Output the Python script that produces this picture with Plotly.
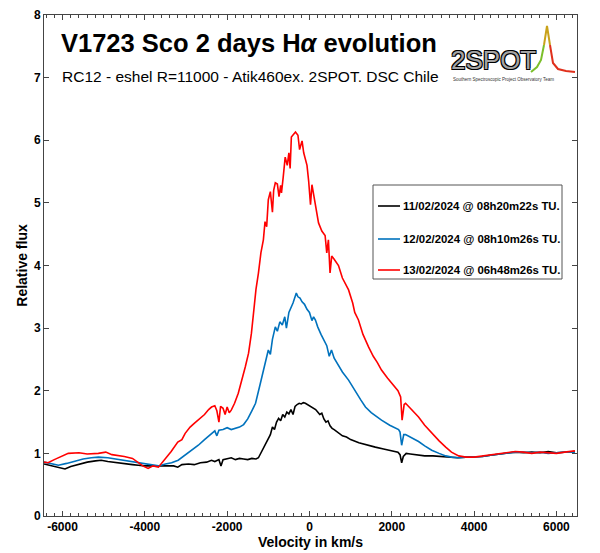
import plotly.graph_objects as go

# ---------------- data ----------------
labels = ["11/02/2024 @ 08h20m22s TU.",
          "12/02/2024 @ 08h10m26s TU.",
          "13/02/2024 @ 06h48m26s TU."]
colors = ["#000000", "#0072BD", "#FF0000"]

v_black = [-6450, -6300, -6100, -5940, -5800, -5600, -5400, -5200, -5060, -4900, -4700, -4500,
           -4300, -4160, -4000, -3800, -3670, -3500, -3300, -3200, -3100, -2940, -2800, -2650,
           -2500, -2380, -2300, -2200, -2150, -2100, -2000, -1900, -1800, -1700, -1600, -1500,
           -1400, -1300, -1240, -1150, -1050, -1000, -950, -900, -850, -800, -750, -700, -650,
           -600, -550, -500, -450, -400, -350, -300, -250, -200, -150, -100, -50, 0, 50, 100,
           150, 200, 250, 300, 350, 400, 450, 500, 550, 600, 700, 800, 900, 1000, 1200, 1400,
           1600, 1800, 2000, 2150, 2200, 2240, 2280, 2350, 2450, 2600, 2800, 3000, 3200, 3400,
           3600, 3800, 4000, 4200, 4400, 4600, 4800, 5000, 5200, 5400, 5600, 5800, 6000, 6200,
           6450]
f_black = [0.83, 0.81, 0.78, 0.75, 0.79, 0.83, 0.86, 0.88, 0.89, 0.87, 0.85, 0.83,
           0.82, 0.81, 0.80, 0.80, 0.80, 0.81, 0.80, 0.78, 0.82, 0.83, 0.82, 0.85,
           0.86, 0.89, 0.87, 0.90, 0.80, 0.90, 0.91, 0.93, 0.90, 0.92, 0.91, 0.90,
           0.92, 0.91, 0.93, 1.05, 1.18, 1.24, 1.30, 1.42, 1.38, 1.50, 1.56, 1.52, 1.62,
           1.58, 1.66, 1.63, 1.70, 1.62, 1.75, 1.78, 1.80, 1.79, 1.81, 1.80, 1.78, 1.77, 1.74, 1.72,
           1.70, 1.66, 1.62, 1.64, 1.55, 1.50, 1.52, 1.44, 1.40, 1.38, 1.33, 1.28, 1.26, 1.22, 1.17, 1.13,
           1.10, 1.07, 1.04, 1.02, 0.98, 0.85, 0.95, 1.00, 0.99, 0.98, 0.96, 0.96, 0.95, 0.94,
           0.93, 0.94, 0.94, 0.95, 0.97, 0.99, 1.01, 1.02, 1.01, 1.02, 1.01, 1.03, 1.01, 1.02,
           1.03]

v_blue = [-6450, -6300, -6100, -5900, -5700, -5500, -5300, -5130, -4900, -4700, -4500, -4300,
          -4160, -4000, -3800, -3670, -3500, -3350, -3190, -3000, -2850, -2700, -2550, -2400,
          -2300, -2250, -2200, -2100, -2000, -1900, -1800, -1700, -1600, -1500, -1400, -1310,
          -1200, -1070, -1000, -950, -900, -830, -780, -720, -660, -600, -560, -500, -450, -400,
          -350, -320, -280, -230, -180, -120, -60, 0, 60, 100, 145, 200, 280, 350, 420, 480, 535,
          600, 700, 800, 950, 1100, 1250, 1360, 1500, 1750, 1950, 2165, 2200, 2240, 2290, 2335,
          2450, 2650, 2800, 2970, 3150, 3310, 3450, 3625, 3800, 4000, 4200, 4400, 4600, 4800,
          5000, 5200, 5400, 5600, 5800, 6000, 6200, 6450]
f_blue = [0.86, 0.84, 0.81, 0.84, 0.88, 0.91, 0.93, 0.94, 0.93, 0.91, 0.89, 0.87,
          0.86, 0.84, 0.82, 0.80, 0.83, 0.85, 0.89, 0.98, 1.05, 1.13, 1.22, 1.30,
          1.36, 1.28, 1.37, 1.38, 1.41, 1.38, 1.40, 1.42, 1.46, 1.55, 1.68, 1.80,
          2.10, 2.49, 2.65, 2.58, 2.82, 3.02, 2.95, 3.10, 3.05, 3.18, 3.00, 3.25, 3.32, 3.40,
          3.50, 3.56, 3.50, 3.48, 3.42, 3.38, 3.30, 3.25, 3.12, 3.18, 3.13, 3.02, 2.90, 2.82, 2.72, 2.55, 2.65,
          2.52, 2.40, 2.30, 2.17, 2.00, 1.85, 1.74, 1.65, 1.53, 1.45, 1.38, 1.34, 1.13, 1.30, 1.30,
          1.26, 1.19, 1.12, 1.05, 1.00, 0.96, 0.94, 0.93, 0.94, 0.94, 0.95, 0.97, 0.99, 1.01,
          1.02, 1.02, 1.01, 1.02, 1.00, 1.01, 1.02, 1.02]

v_red = [-6450, -6350, -6200, -6000, -5860, -5600, -5400, -5130, -4950, -4800, -4650, -4500,
         -4300, -4160, -4050, -3920, -3800, -3670, -3550, -3450, -3360, -3200, -3100, -3020,
         -2900, -2800, -2700, -2550, -2450, -2380, -2300, -2250, -2200, -2160, -2100, -2050,
         -2000, -1950, -1900, -1820, -1730, -1650, -1560, -1480, -1410, -1350, -1300, -1240,
         -1180, -1120, -1080, -1040, -1000, -950, -900, -870, -830, -780, -740, -700, -680,
         -640, -590, -540, -500, -470, -440, -380, -340, -280, -240, -220, -180, -140, -100,
         -60, -20, 25, 60, 120, 180, 220, 300, 380, 420, 460, 500, 540, 600, 705, 800, 900,
         950, 1050, 1100, 1190, 1300, 1435, 1550, 1650, 1750, 1900, 2090, 2150, 2215, 2250,
         2300, 2335, 2450, 2650, 2800, 2970, 3150, 3310, 3450, 3625, 3800, 4000, 4200, 4400,
         4600, 4800, 5000, 5200, 5400, 5600, 5800, 6000, 6200, 6450]
f_red = [0.86, 0.85, 0.90, 0.96, 1.00, 1.01, 0.99, 1.00, 1.02, 0.98, 0.97, 0.95,
         0.92, 0.86, 0.80, 0.76, 0.80, 0.78, 0.88, 0.95, 1.03, 1.18, 1.22, 1.32,
         1.42, 1.48, 1.53, 1.62, 1.70, 1.74, 1.76, 1.68, 1.50, 1.75, 1.72, 1.62,
         1.74, 1.65, 1.69, 1.80, 1.96, 2.15, 2.38, 2.60, 2.92, 3.30, 3.62, 3.88,
         4.20, 4.41, 4.70, 4.62, 5.05, 5.18, 4.85, 5.20, 5.32, 5.30, 5.10, 5.28, 5.16,
         5.40, 5.73, 5.60, 5.80, 5.55, 6.05, 6.10, 6.13, 6.08, 5.85, 5.90, 5.99, 5.80, 5.69,
         5.60, 5.35, 4.97, 5.29, 5.05, 4.85, 4.68, 4.55, 4.48, 4.20, 4.41, 3.88, 4.15, 4.10, 4.00, 3.80, 3.68,
         3.61, 3.40, 3.25, 3.13, 2.90, 2.70, 2.55, 2.45, 2.33, 2.20, 2.06, 2.00, 1.90, 1.53,
         1.78, 1.80, 1.72, 1.58, 1.45, 1.32, 1.20, 1.10, 1.02, 0.96, 0.94, 0.94, 0.96, 0.97,
         1.00, 1.01, 1.03, 1.02, 1.00, 1.02, 1.01, 1.00, 1.02, 1.04]

x_ticks = [-6000, -4000, -2000, 0, 2000, 4000, 6000]
y_ticks = [0, 1, 2, 3, 4, 5, 6, 7, 8]

title_text = "V1723 Sco 2 days H<i>α</i> evolution"
subtitle_text = "RC12 - eshel R=11000 - Atik460ex. 2SPOT. DSC Chile"

# ---------------- figure ----------------
FONT = "Liberation Sans, Arial, Helvetica, sans-serif"
OFF = 8                      # page body margin of the browser
W, H = 600 - OFF, 553 - OFF
ML, MR, MT, MB = 44 - OFF, 23, 15 - OFF, 37
PW, PH = W - ML - MR, H - MT - MB


def px(x):  # page pixel -> paper x
    return (x - OFF - ML) / PW


def py(y):  # page pixel -> paper y
    return (OFF + H - MB - y) / PH


fig = go.Figure()
series = [(v_black, f_black), (v_blue, f_blue), (v_red, f_red)]
for i, (v, f) in enumerate(series):
    fig.add_trace(go.Scatter(x=v, y=f, mode="lines", name=labels[i],
                             showlegend=False,
                             line=dict(color=colors[i], width=1.6)))

axis_common = dict(showline=True, linecolor="#444", linewidth=1, mirror="ticks",
                   ticks="inside", ticklen=5, tickcolor="#444", showgrid=False,
                   zeroline=False, automargin=False,
                   tickfont=dict(family=FONT, size=12, color="black"))

fig.update_xaxes(range=[-6450, 6500], tickvals=x_ticks,
                 ticktext=["<b>%d</b>" % t for t in x_ticks],
                 minor=dict(dtick=200, tick0=0, ticks="inside", ticklen=3, tickcolor="#444"),
                 title=dict(text="<b>Velocity in km/s</b>", font=dict(family=FONT, size=14, color="black"),
                            standoff=1),
                 **axis_common)
fig.update_yaxes(range=[0, 8], tickvals=y_ticks,
                 ticktext=["<b>%d</b>" % t for t in y_ticks],
                 title=dict(text="<b>Relative flux</b>", font=dict(family=FONT, size=14, color="black"),
                            standoff=3),
                 **axis_common)

fig.update_layout(
    width=W, height=H,
    margin=dict(l=ML, r=MR, t=MT, b=MB, autoexpand=False),
    paper_bgcolor="white", plot_bgcolor="white",
    font=dict(family=FONT, color="black"),
    showlegend=False,
)

# legend box (drawn)
fig.add_shape(type="rect", xref="paper", yref="paper",
              x0=px(373), x1=px(562), y0=py(279), y1=py(185),
              line=dict(color="#555", width=1), fillcolor="white", layer="above")
row_y = [206, 239, 270]
for i, lab in enumerate(labels):
    fig.add_shape(type="line", xref="paper", yref="paper",
                  x0=px(378), x1=px(400), y0=py(row_y[i]), y1=py(row_y[i]),
                  line=dict(color=colors[i], width=1.6), layer="above")
    fig.add_annotation(x=px(401), y=py(row_y[i]), xref="paper", yref="paper",
                       xanchor="left", yanchor="middle", text="<b>" + lab + "</b>",
                       showarrow=False, font=dict(family=FONT, size=11.4, color="black"))

# title texts
fig.add_annotation(x=px(59), y=py(43), xref="paper", yref="paper", xanchor="left", yanchor="middle",
                   text="<b>" + title_text + "</b>", showarrow=False,
                   font=dict(family=FONT, size=25.5, color="black"))
fig.add_annotation(x=px(60), y=py(76), xref="paper", yref="paper", xanchor="left", yanchor="middle",
                   text=subtitle_text, showarrow=False,
                   font=dict(family=FONT, size=15.5, color="black"))

# 2SPOT logo (decoration)
fig.add_annotation(x=px(449), y=py(60), xref="paper", yref="paper", xanchor="left", yanchor="middle",
                   text="2SPOT", showarrow=False,
                   font=dict(family=FONT, size=26, color="#a3a3a3",
                             shadow="1px 1px 0 #000, -1px -1px 0 #000, 1px -1px 0 #000, -1px 1px 0 #000"))
fig.add_annotation(x=px(451), y=py(79), xref="paper", yref="paper", xanchor="left", yanchor="middle",
                   text="Southern Spectroscopic Project Observatory Team", showarrow=False,
                   font=dict(family=FONT, size=4.5, color="#333"))
fig.add_shape(type="path", xref="paper", yref="paper",
              path="M %f %f L %f %f L %f %f L %f %f" % (px(531), py(72), px(537), py(67),
                                                       px(541), py(60), px(544), py(45)),
              line=dict(color="#7bbf2a", width=2))
fig.add_shape(type="path", xref="paper", yref="paper",
              path="M %f %f L %f %f L %f %f" % (px(544), py(45), px(547), py(26), px(550), py(45)),
              line=dict(color="#c9a21a", width=2))
fig.add_shape(type="path", xref="paper", yref="paper",
              path="M %f %f L %f %f L %f %f L %f %f L %f %f" % (px(550), py(45), px(553), py(63),
                                                               px(558), py(69), px(566), py(71),
                                                               px(575), py(72)),
              line=dict(color="#e0301c", width=2))

fig.write_html("out.html")
